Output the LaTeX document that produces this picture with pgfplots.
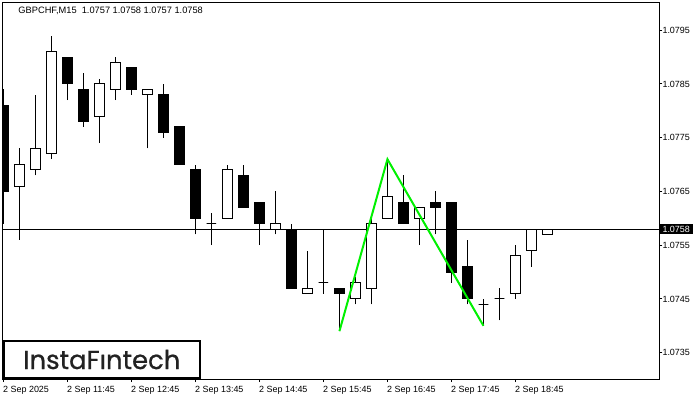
\documentclass[border=0pt]{standalone}
\usepackage{fontspec}
\setmainfont{Liberation Sans}
\newfontfamily\logofont{Poppins}[FakeBold=0.8]
\usepackage{pgfplots}
\usepackage{pgfplotstable}
\pgfplotsset{compat=1.18}

\definecolor{patgreen}{RGB}{0,240,0}
\definecolor{logotext}{RGB}{34,34,34}

% GBPCHF M15, one row per bar: index, open, high, low, close
\pgfplotstableread{
i  o      h      l      c
0  1.0781 1.0784 1.0759 1.0765
1  1.0766 1.0773 1.0756 1.0770
2  1.0769 1.0783 1.0768 1.0773
3  1.0772 1.0794 1.0771 1.0791
4  1.0790 1.0790 1.0782 1.0785
5  1.0784 1.0787 1.0777 1.0778
6  1.0779 1.0786 1.0774 1.0785
7  1.0784 1.0790 1.0782 1.0789
8  1.0788 1.0788 1.0783 1.0784
9  1.0783 1.0784 1.0773 1.0784
10 1.0783 1.0785 1.0775 1.0776
11 1.0777 1.0777 1.0770 1.0770
12 1.0769 1.0770 1.0757 1.0760
13 1.0759 1.0761 1.0755 1.0759
14 1.0760 1.0770 1.0760 1.0769
15 1.0768 1.0770 1.0762 1.0762
16 1.0763 1.0763 1.0755 1.0759
17 1.0758 1.0765 1.0757 1.0759
18 1.0758 1.0759 1.0747 1.0747
19 1.0746 1.0754 1.0746 1.0747
20 1.0748 1.0758 1.0746 1.0748
21 1.0747 1.0747 1.0739 1.0746
22 1.0745 1.0749 1.0744 1.0748
23 1.0747 1.0760 1.0744 1.0759
24 1.0760 1.0771 1.0760 1.0764
25 1.0763 1.0768 1.0759 1.0759
26 1.0760 1.0762 1.0755 1.0762
27 1.0763 1.0765 1.0757 1.0762
28 1.0763 1.0763 1.0748 1.0750
29 1.0751 1.0756 1.0744 1.0745
30 1.0744 1.0745 1.0740 1.0744
31 1.0745 1.0747 1.0741 1.0745
32 1.0746 1.0755 1.0745 1.0753
33 1.0754 1.0758 1.0751 1.0758
34 1.0757 1.0758 1.0757 1.0758
}\candles

\begin{document}
\begin{tikzpicture}[x=1bp,y=1bp]
\begin{axis}[
    name=ax,
    scale only axis, width=656.6bp, height=376.7bp,
    xmin=-0.044, xmax=40.99,
    ymin=1.07301, ymax=1.08002,
    axis on top,
    clip mode=individual,
    axis line style={black, line width=1bp},
    xtick={0,4,...,32},
    xticklabels={2 Sep 2025, 2 Sep 11:45, 2 Sep 12:45, 2 Sep 13:45,
        2 Sep 14:45, 2 Sep 15:45, 2 Sep 16:45, 2 Sep 17:45, 2 Sep 18:45},
    ytick={1.0735,1.0745,1.0755,1.0765,1.0775,1.0785,1.0795},
    yticklabels={1.0735,1.0745,1.0755,1.0765,1.0775,1.0785,1.0795},
    xtick pos=bottom, ytick pos=right, yticklabel pos=right,
    tick align=outside, major tick length=3bp,
    tick style={black, line width=1bp},
    ticklabel style={font=\fontsize{9}{10}\selectfont, text=black},
    xticklabel style={anchor=north west, inner sep=0pt, xshift=-0.5bp, yshift=-4bp},
    yticklabel style={anchor=west, inner sep=0pt},
  ]
% bid line, behind the bars
\addplot[black, line width=1bp, forget plot]
  coordinates {(-1,1.0758) (42,1.0758)};

\pgfplotsforeachungrouped \r in {0,...,34}{%
  \pgfplotstablegetelem{\r}{i}\of\candles \let\ci\pgfplotsretval
  \pgfplotstablegetelem{\r}{o}\of\candles \let\co\pgfplotsretval
  \pgfplotstablegetelem{\r}{h}\of\candles \let\ch\pgfplotsretval
  \pgfplotstablegetelem{\r}{l}\of\candles \let\cl\pgfplotsretval
  \pgfplotstablegetelem{\r}{c}\of\candles \let\cc\pgfplotsretval
  \pgfmathsetmacro\xa{\ci-0.3}%
  \pgfmathsetmacro\xb{\ci+0.3}%
  \pgfmathtruncatemacro\bull{\cc>\co ? 1 : 0}%
  \ifnum\bull=1 \def\bodyfill{white}\else\def\bodyfill{black}\fi
  \edef\doit{%
    \noexpand\addplot[black, line width=1bp, forget plot]
      coordinates {(\ci,\cl) (\ci,\ch)};
    \noexpand\addplot[draw=black, fill=\bodyfill, line width=1bp, forget plot]
      coordinates {(\xa,\co) (\xb,\co) (\xb,\cc) (\xa,\cc)} -- cycle;
  }\doit
}

% double top pattern
\addplot[patgreen, line width=2bp, forget plot]
  coordinates {(21,1.0739) (24,1.0771) (30,1.0740)};

\node[fill=black, text=white, anchor=west, inner xsep=3bp, inner ysep=1.7bp,
  text height=6.5bp, text depth=0pt, font=\fontsize{9}{10}\selectfont]
  at (axis cs:40.99,1.0758) {1.0758};
\end{axis}

\pgfresetboundingbox
\begin{scope}[shift={(ax.south west)}]
\path[use as bounding box] (-2.7,-21) rectangle (697.3,379);

\node[anchor=west, inner sep=0pt, font=\fontsize{9.3}{10}\selectfont]
  at (15.6,368.6) {GBPCHF,M15\ \ 1.0757 1.0758 1.0757 1.0758};

\draw[line width=2bp, black] (1,1) rectangle (197.3,38);
\node[anchor=base, inner sep=0pt, text=logotext,
  font=\logofont\fontsize{26}{26}\selectfont] at (99.1,10) {InstaFıntech};
\end{scope}
\end{tikzpicture}
\end{document}
